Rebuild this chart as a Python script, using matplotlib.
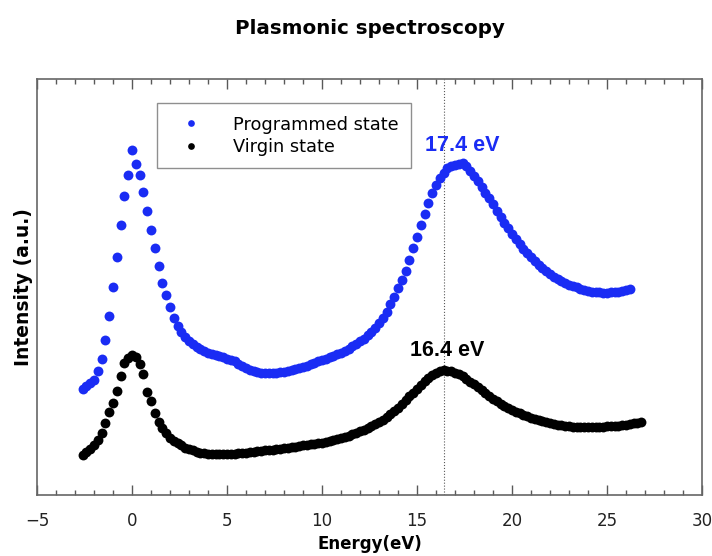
import matplotlib

matplotlib.use("Agg")
import matplotlib.pyplot as plt
import numpy as np
from matplotlib.ticker import MultipleLocator

# energy axis of the loss spectra (eV), 0.2 eV steps
energy_prog = np.round(np.arange(-2.6, 26.21, 0.2), 1)
energy_virgin = np.round(np.arange(-2.6, 26.81, 0.2), 1)

# intensities in arbitrary units
programmed = [
    25.6, 26.1, 26.9, 27.6, 29.9, 32.8, 37.3, 43.0, 50.1, 57.3,
    64.8, 71.9, 76.9, 82.9, 79.5, 76.9, 72.8, 68.3, 63.7, 59.3,
    55.0, 51.0, 48.1, 45.1, 42.5, 40.6, 39.2, 38.0, 37.0, 36.2,
    35.6, 35.1, 34.6, 34.2, 33.9, 33.6, 33.3, 33.1, 32.8, 32.5,
    32.1, 31.6, 31.0, 30.5, 30.0, 29.7, 29.5, 29.4, 29.3, 29.3,
    29.3, 29.4, 29.5, 29.6, 29.8, 30.0, 30.2, 30.5, 30.8, 31.1,
    31.4, 31.7, 32.1, 32.4, 32.8, 33.1, 33.5, 33.8, 34.2, 34.6,
    35.1, 35.7, 36.3, 36.9, 37.6, 38.4, 39.3, 40.2, 41.3, 42.6,
    44.0, 45.8, 47.7, 49.8, 51.6, 53.8, 56.6, 59.4, 62.1, 64.8,
    67.6, 70.2, 72.5, 74.5, 76.1, 77.5, 78.5, 79.0, 79.4, 79.6,
    79.7, 79.0, 77.9, 76.8, 75.4, 74.1, 72.7, 71.3, 69.9, 68.3,
    66.9, 65.5, 64.1, 62.8, 61.5, 60.3, 59.2, 58.1, 57.1, 56.2,
    55.3, 54.5, 53.8, 53.1, 52.5, 52.0, 51.5, 51.0, 50.6, 50.2,
    49.9, 49.6, 49.3, 49.1, 48.9, 48.8, 48.7, 48.6, 48.6, 48.7,
    48.8, 48.9, 49.0, 49.2, 49.4,
]
virgin = [
    9.6, 10.4, 11.0, 12.0, 13.2, 14.8, 17.2, 20.0, 22.0, 25.0,
    28.5, 31.7, 33.0, 33.6, 33.2, 31.6, 29.0, 24.8, 22.6, 19.8,
    17.6, 16.0, 14.8, 13.8, 13.0, 12.4, 11.9, 11.4, 11.0, 10.7,
    10.4, 10.2, 10.0, 9.9, 9.8, 9.8, 9.8, 9.8, 9.8, 9.9,
    9.9, 10.0, 10.1, 10.2, 10.3, 10.4, 10.5, 10.6, 10.7, 10.8,
    10.9, 11.0, 11.1, 11.2, 11.3, 11.5, 11.6, 11.8, 11.9, 12.0,
    12.2, 12.3, 12.5, 12.6, 12.8, 13.0, 13.2, 13.5, 13.8, 14.0,
    14.3, 14.6, 15.0, 15.4, 15.7, 16.0, 16.5, 17.0, 17.6, 18.1,
    18.8, 19.5, 20.2, 21.0, 21.9, 22.8, 23.7, 24.6, 25.5, 26.4,
    27.3, 28.1, 28.8, 29.4, 29.8, 30.0, 29.9, 29.7, 29.4, 29.0,
    28.5, 27.9, 27.2, 26.6, 25.9, 25.2, 24.5, 23.8, 23.1, 22.5,
    21.9, 21.4, 20.9, 20.4, 20.0, 19.6, 19.2, 18.9, 18.6, 18.3,
    18.0, 17.8, 17.5, 17.3, 17.1, 16.9, 16.8, 16.6, 16.5, 16.4,
    16.4, 16.3, 16.3, 16.3, 16.3, 16.3, 16.4, 16.4, 16.5, 16.5,
    16.6, 16.7, 16.8, 16.9, 17.0, 17.2, 17.3, 17.5,
]

peak_prog = 17.4
peak_virgin = 16.4

BLUE = "#1a2cf4"

fig = plt.figure(figsize=(7.12, 5.56), dpi=100)
ax = fig.add_axes([37 / 712, 1 - 495 / 556, 665 / 712, 416 / 556])

ax.plot(energy_prog, programmed, "o", color=BLUE, ms=7.1, mew=0, label="Programmed state")
ax.plot(energy_virgin, virgin, "o", color="black", ms=7.1, mew=0, label="Virgin state")
ax.axvline(peak_virgin, color="0.35", ls=":", lw=0.8, zorder=0)

ip = int(np.argmin(np.abs(energy_prog - peak_prog)))
iv = int(np.argmin(np.abs(energy_virgin - peak_virgin)))
ax.text(peak_prog, programmed[ip] + 1.7, f"{peak_prog} eV", color=BLUE,
        fontsize=15.5, fontweight="bold", family="Liberation Sans", ha="center", va="bottom")
ax.text(peak_virgin + 0.2, virgin[iv] + 2.3, f"{peak_virgin} eV", color="black",
        fontsize=15.5, fontweight="bold", family="Liberation Sans", ha="center", va="bottom")

ax.set_xlim(-5, 30)
ax.set_ylim(0, 100)
ax.xaxis.set_major_locator(MultipleLocator(5))
ax.xaxis.set_minor_locator(MultipleLocator(1))
ax.tick_params(axis="x", which="both", direction="in", top=True, bottom=True,
               colors="0.35", labelcolor="#222222", labelsize=12, pad=12)
ax.tick_params(axis="x", which="major", length=7, width=1.0)
ax.tick_params(axis="x", which="minor", length=3.5, width=1.0)
ax.tick_params(axis="y", left=False, right=False, labelleft=False)
for sp in ax.spines.values():
    sp.set_color("0.4")
    sp.set_linewidth(1.2)

ax.set_xlabel("Energy(eV)", fontsize=12, fontweight="bold", labelpad=4)
ax.set_ylabel("Intensity (a.u.)", fontsize=13.5, fontweight="bold", labelpad=3)

leg = ax.legend(loc="upper left", bbox_to_anchor=(0.18, 0.942), borderaxespad=0,
                fontsize=12.8, markerscale=0.68, frameon=True, fancybox=False,
                borderpad=0.7, handlelength=2.5, handletextpad=1.1, labelspacing=0.25)
leg.get_frame().set_edgecolor("0.45")
leg.get_frame().set_linewidth(1.0)

fig.text(369.5 / 712, 1 - 28 / 556, "Plasmonic spectroscopy", ha="center", va="center",
         fontsize=14.3, fontweight="bold")

fig.savefig("out.png", dpi=100)
